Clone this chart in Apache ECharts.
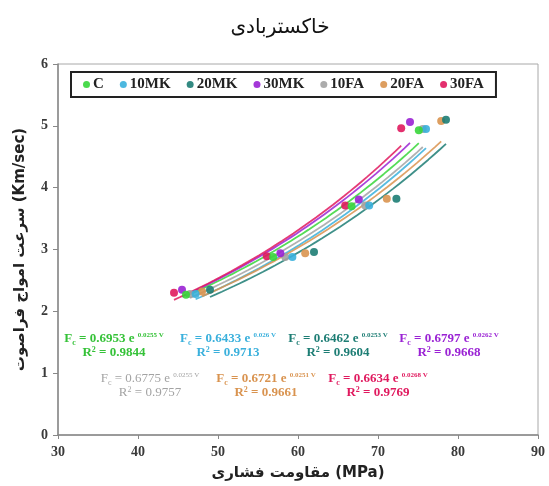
<!DOCTYPE html>
<html>
<head>
<meta charset="utf-8">
<script src="https://cdn.jsdelivr.net/npm/echarts@6/dist/echarts.min.js"></script>
<style>
  html, body { margin: 0; padding: 0; background: #fff; }
  #chart { width: 549px; height: 486px; }
</style>
</head>
<body>
<div id="chart"></div>
<script>
// series names and colours
const seriesNames = ['C', '10MK', '20MK', '30MK', '10FA', '20FA', '30FA'];
const seriesColors = ['#37d63a', '#3ab0dc', '#1d7d74', '#9a22d4', '#a3a3a3', '#d9934f', '#e0195e'];
const eqColors = ['#35c238', '#3ab0dc', '#1d7d74', '#9a22d4', '#a3a3a3', '#d9934f', '#e0195e'];

// compressive strength (MPa) / ultrasonic velocity (km/s)
const strengthC    = [46.0, 56.9, 66.7, 75.1];
const velocityC    = [2.27, 2.88, 3.70, 4.93];
const strength10MK = [47.2, 59.3, 68.9, 76.0];
const velocity10MK = [2.28, 2.88, 3.71, 4.95];
const strength20MK = [49.0, 62.0, 72.3, 78.5];
const velocity20MK = [2.35, 2.96, 3.82, 5.10];
const strength30MK = [45.5, 57.8, 67.6, 74.0];
const velocity30MK = [2.35, 2.94, 3.81, 5.06];
const strength10FA = [46.5, 58.4, 68.4, 75.6];
const velocity10FA = [2.28, 2.88, 3.71, 4.95];
const strength20FA = [48.0, 60.9, 71.1, 77.9];
const velocity20FA = [2.32, 2.94, 3.82, 5.08];
const strength30FA = [44.5, 56.1, 65.9, 72.9];
const velocity30FA = [2.30, 2.89, 3.71, 4.96];

// exponential trend lines shown on the chart: y = a * e^(b x)
const fitA  = [0.6953, 0.6433, 0.6462, 0.6797, 0.6775, 0.6721, 0.6634];
const fitB  = [0.0255, 0.026, 0.0253, 0.0262, 0.0255, 0.0251, 0.0268];
const fitAText = ['0.6953', '0.6433', '0.6462', '0.6797', '0.6775', '0.6721', '0.6634'];
const fitBText = ['0.0255', '0.026', '0.0253', '0.0262', '0.0255', '0.0251', '0.0268'];
const fitR2 = ['0.9844', '0.9713', '0.9604', '0.9668', '0.9757', '0.9661', '0.9769'];

const xTicks = [30, 40, 50, 60, 70, 80, 90];
const yTicks = [0, 1, 2, 3, 4, 5, 6];

const strengths  = [strengthC, strength10MK, strength20MK, strength30MK, strength10FA, strength20FA, strength30FA];
const velocities = [velocityC, velocity10MK, velocity20MK, velocity30MK, velocity10FA, velocity20FA, velocity30FA];

// where each equation block sits
const eqPos = [[114, 339], [228, 339], [338, 339], [449, 339], [150, 379], [266, 379], [378, 379]];
const eqBold = [true, true, true, true, false, true, true];

const chart = echarts.init(document.getElementById('chart'));

function trend(i) {
    const xs = strengths[i];
    const x0 = Math.min.apply(null, xs), x1 = Math.max.apply(null, xs);
    const pts = [];
    for (let k = 0; k <= 40; k++) {
        const x = x0 + (x1 - x0) * k / 40;
        pts.push([x, fitA[i] * Math.exp(fitB[i] * x)]);
    }
    return pts;
}

const series = [];
seriesNames.forEach(function (name, i) {
    series.push({
        name: name,
        type: 'line',
        data: trend(i),
        showSymbol: false,
        lineStyle: { color: seriesColors[i], width: 1.8, opacity: 0.85 },
        itemStyle: { color: seriesColors[i] },
        z: 2,
        silent: true
    });
});
seriesNames.forEach(function (name, i) {
    series.unshift({
        name: name,
        type: 'scatter',
        data: strengths[i].map(function (x, k) { return [x, velocities[i][k]]; }),
        symbol: 'circle',
        symbolSize: 8,
        itemStyle: { color: seriesColors[i], opacity: 0.9 },
        z: 3
    });
});

const graphics = [{
    type: 'text',
    x: 280, y: 28,
    style: {
        text: 'خاکستربادی',
        font: '20px "DejaVu Sans"',
        fill: '#111',
        align: 'center',
        verticalAlign: 'middle'
    }
}];

seriesNames.forEach(function (name, i) {
    const w = eqBold[i] ? 'bold' : 'normal';
    const base = { fontFamily: 'Liberation Serif', fontWeight: w, fill: eqColors[i], color: eqColors[i] };
    graphics.push({
        type: 'text',
        x: eqPos[i][0], y: eqPos[i][1],
        style: {
            text: '{m|F}{s|c}{m| = ' + fitAText[i] + ' e }{p|' + fitBText[i] + ' V}',
            fill: eqColors[i],
            align: 'center',
            verticalAlign: 'middle',
            rich: {
                m: Object.assign({ fontSize: 13, lineHeight: 15 }, base),
                s: Object.assign({ fontSize: 8, lineHeight: 8, verticalAlign: 'bottom' }, base),
                p: Object.assign({ fontSize: 7, lineHeight: 7, verticalAlign: 'top' }, base)
            }
        }
    });
    graphics.push({
        type: 'text',
        x: eqPos[i][0], y: eqPos[i][1] + 14,
        style: {
            text: '{m|R}{p|2}{m| = ' + fitR2[i] + '}',
            fill: eqColors[i],
            align: 'center',
            verticalAlign: 'middle',
            rich: {
                m: Object.assign({ fontSize: 13, lineHeight: 15 }, base),
                p: Object.assign({ fontSize: 8, lineHeight: 8, verticalAlign: 'top' }, base)
            }
        }
    });
});

chart.setOption({
    animation: false,
    grid: {
        left: 58, right: 11, top: 64, bottom: 51,
        show: true, borderColor: '#a8a8a8', borderWidth: 1
    },
    legend: {
        data: seriesNames,
        left: 71, top: 72,
        padding: [5, 12, 5, 12],
        borderColor: '#222', borderWidth: 2,
        icon: 'circle',
        itemWidth: 7, itemHeight: 7, itemGap: 16,
        textStyle: { fontFamily: 'Liberation Serif', fontWeight: 'bold', fontSize: 15, color: '#222', padding: [0, 0, 0, -2] }
    },
    xAxis: {
        type: 'value',
        min: xTicks[0], max: xTicks[xTicks.length - 1], interval: 10,
        name: 'مقاومت فشاری (MPa)',
        nameLocation: 'middle', nameGap: 31,
        nameTextStyle: { fontFamily: 'DejaVu Sans', fontWeight: 'bold', fontSize: 15, color: '#222' },
        axisLine: { show: true, lineStyle: { color: '#888', width: 1.5 } },
        axisTick: { show: true, length: 4, lineStyle: { color: '#888' } },
        axisLabel: { fontFamily: 'Liberation Serif', fontWeight: 'bold', fontSize: 14, color: '#3a3a3a', margin: 10 },
        splitLine: { show: false }
    },
    yAxis: {
        type: 'value',
        min: yTicks[0], max: yTicks[yTicks.length - 1], interval: 1,
        name: 'سرعت امواج فراصوت (Km/sec)',
        nameLocation: 'middle', nameGap: 30,
        nameTextStyle: { fontFamily: 'DejaVu Sans', fontWeight: 'bold', fontSize: 15, color: '#222' },
        axisLine: { show: true, lineStyle: { color: '#888', width: 1.5 } },
        axisTick: { show: true, length: 5, lineStyle: { color: '#888' } },
        axisLabel: { fontFamily: 'Liberation Serif', fontWeight: 'bold', fontSize: 14, color: '#3a3a3a', margin: 10 },
        splitLine: { show: false }
    },
    graphic: graphics,
    series: series
});
</script>
</body>
</html>
